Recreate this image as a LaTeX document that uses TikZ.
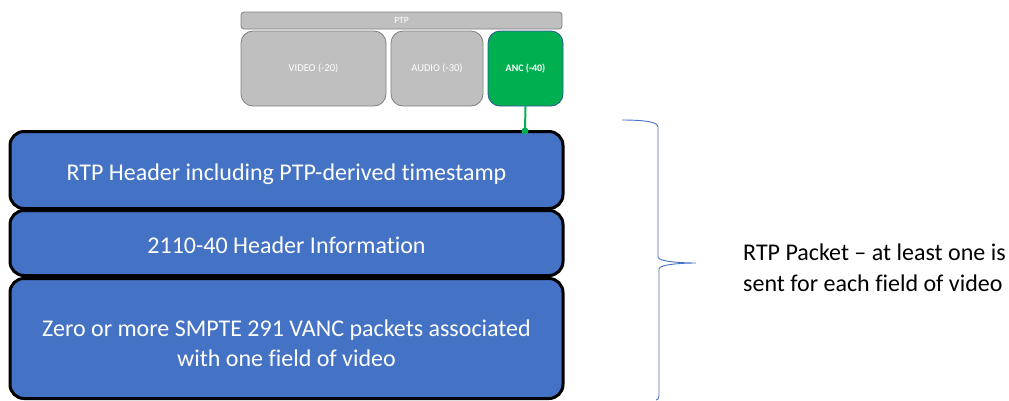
\documentclass[tikz,border=0pt]{standalone}
\usepackage{fontspec}
\setmainfont[Ligatures=NoCommon]{Carlito}
\definecolor{boxblue}{HTML}{4472C4}
\definecolor{ancgreen}{HTML}{00B050}
\definecolor{grayfill}{HTML}{BFBFBF}
\definecolor{grayline}{HTML}{7F7F7F}
\definecolor{ancborder}{HTML}{2F5597}
\begin{document}
\begin{tikzpicture}[x=1pt,y=-1pt,
  graybox/.style={draw=grayline, line width=0.8pt, fill=grayfill, rounded corners=12pt, inner sep=0pt, text=white, font=\fontsize{10.5}{12}\selectfont},
  layer/.style={draw=black, line width=3pt, fill=boxblue, rounded corners=14pt, inner sep=0pt, minimum width=553pt},
  layertext/.style={text=white, align=center, inner sep=0pt, font=\fontsize{24}{30}\selectfont},
  oneline/.style={text height=17pt, text depth=5pt},
]
\useasboundingbox (0,0) rectangle (1009,400);
\node[graybox, rounded corners=3pt, minimum width=321pt, minimum height=17pt, font=\fontsize{9.5}{11}\selectfont] (ptp) at (401.5,20.5) {PTP};
\node[graybox, minimum width=145pt, minimum height=75pt] (video) at (313.5,68.5) {VIDEO (-20)};
\node[graybox, minimum width=92pt, minimum height=75pt] (audio) at (437,68.5) {AUDIO (-30)};
\node[graybox, draw=ancborder, fill=ancgreen, minimum width=75pt, minimum height=75pt, font=\fontsize{10}{12}\selectfont\bfseries] (anc) at (525.5,68.5) {ANC (-40)};
\node[layer, minimum height=77pt] (rtp) at (286.5,170) {};
\node[layer, minimum height=65pt] (hdr) at (286.5,243) {};
\node[layer, minimum height=120pt] (vanc) at (286.5,338.5) {};
\node[layertext, oneline] (rtpt) at (286.5,174) {RTP Header including PTP-derived timestamp};
\node[layertext, oneline] (hdrt) at (286.5,247) {2110-40 Header Information};
\node[layertext] (vanct) at (286.5,343.5) {Zero or more SMPTE 291 VANC packets associated\\with one field of video};
\coordinate (dot) at (525,131);
\draw[ancgreen, line width=2pt] (anc.south) -- (dot);
\fill[ancgreen] (dot) circle (3.5pt);
% brace
\draw[boxblue, line width=0.9pt] (622,120) .. controls (645,120) and (658,122) .. (658,127)
  -- (658,257) .. controls (658,262) and (685,263) .. (696,263)
  .. controls (685,263) and (659,264) .. (659,269)
  -- (659,396) .. controls (659,399) and (657,400) .. (656,400);
\node[anchor=west, align=left, inner sep=0pt, font=\fontsize{24}{31}\selectfont] (lbl) at (743,267.5) {RTP Packet -- at least one is\\sent for each field of video};
\end{tikzpicture}
\end{document}
